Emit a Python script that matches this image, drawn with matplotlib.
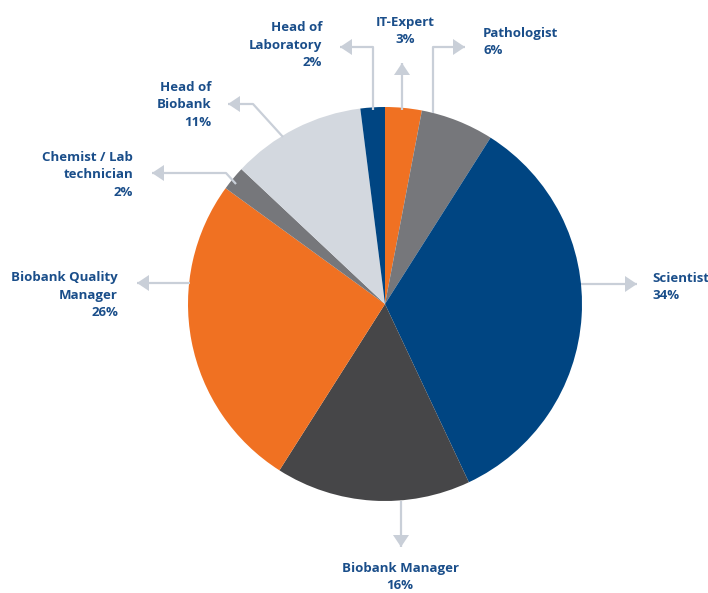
import matplotlib
matplotlib.use("Agg")
import matplotlib.pyplot as plt
from matplotlib.patches import Polygon

labels = ["IT-Expert", "Pathologist", "Scientist", "Biobank Manager",
          "Biobank Quality\nManager", "Chemist / Lab\ntechnician", "Head of\nBiobank",
          "Head of\nLaboratory"]
values = [3, 6, 34, 16, 26, 2, 11, 2]
colors = ["#f07122", "#76777b", "#004582", "#464648", "#f07122", "#76777b",
          "#d3d8df", "#004582"]

W, H = 708, 593
fig = plt.figure(figsize=(W / 100, H / 100), dpi=100)
ax = fig.add_axes([0, 0, 1, 1])

cx, cy, R = 385, H - 304, 197
ax.pie(values, colors=colors, startangle=90, counterclock=False,
       center=(cx, cy), radius=R, frame=True,
       wedgeprops=dict(linewidth=0))
ax.set_xlim(0, W)
ax.set_ylim(0, H)
ax.set_aspect("equal")
ax.axis("off")

lc = "#c9cfd8"
tc = "#1a4e8a"

def Y(y):
    return H - y

def leader(points, direction):
    xs = [p[0] for p in points]
    ys = [Y(p[1]) for p in points]
    ax.plot(xs, ys, color=lc, lw=1.6, solid_capstyle="butt", zorder=1)
    tx, ty = points[-1][0], Y(points[-1][1])
    L, Wd = 12, 8
    if direction == "left":
        tri = [(tx, ty), (tx + L, ty + Wd), (tx + L, ty - Wd)]
    elif direction == "right":
        tri = [(tx, ty), (tx - L, ty + Wd), (tx - L, ty - Wd)]
    elif direction == "up":
        tri = [(tx, ty), (tx - Wd, ty - L), (tx + Wd, ty - L)]
    else:
        tri = [(tx, ty), (tx - Wd, ty + L), (tx + Wd, ty + L)]
    ax.add_patch(Polygon(tri, closed=True, color=lc, lw=0, zorder=1))

leader([(373, 110), (373, 47), (340, 47)], "left")
leader([(402, 110), (402, 63)], "up")
leader([(433, 113), (433, 47), (465, 47)], "right")
leader([(283, 137), (253, 104), (228, 104)], "left")
leader([(236, 184), (226, 173), (152, 173)], "left")
leader([(190, 283), (137, 283)], "left")
leader([(581, 284), (637, 284)], "right")
leader([(401, 501), (401, 547)], "down")

fp = dict(family=["Open Sans", "DejaVu Sans"], fontweight="bold", fontsize=9.5,
          color=tc, linespacing=1.42)

def txt(x, y, s, ha):
    ax.text(x, Y(y), s, ha=ha, va="center", multialignment=ha, **fp)

txt(322, 45, "Head of\nLaboratory\n2%", "right")
txt(405, 31, "IT-Expert\n3%", "center")
txt(483, 42, "Pathologist\n6%", "left")
txt(211, 105, "Head of\nBiobank\n11%", "right")
txt(133, 175, "Chemist / Lab\ntechnician\n2%", "right")
txt(118, 295, "Biobank Quality\nManager\n26%", "right")
txt(652, 287, "Scientist\n34%", "left")
txt(400, 577, "Biobank Manager\n16%", "center")

fig.savefig("out.png", dpi=100)
